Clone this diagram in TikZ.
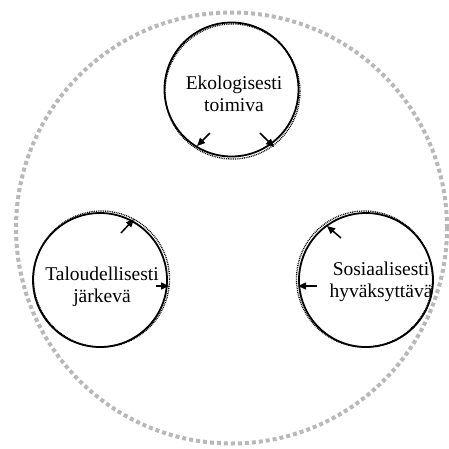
\documentclass[tikz,border=0pt]{standalone}
\usepackage{fontspec}
\setmainfont{Liberation Serif}
\usetikzlibrary{arrows.meta}
\begin{document}
\begin{tikzpicture}[x=1pt,y=-1pt,
  ring/.style={circle, draw, line width=1.8pt, minimum size=134pt, inner sep=0pt},
  ghost/.style={draw, line width=1.3pt, dash pattern=on 0.9pt off 0.9pt},
  lbl/.style={align=center, font=\fontsize{19.5}{21.5}\selectfont, inner sep=0pt},
  arr/.style={-{Triangle[length=8pt,width=7pt]}, line width=1.5pt}]
\useasboundingbox (0,0) rectangle (449,448);
% outer gray dashed ring
\node[circle, draw=black!28, line width=4pt, dash pattern=on 4pt off 3pt, minimum size=431pt, inner sep=0pt] (outer) at (231.5,228) {};
% top circle
\draw[ghost] (232.5,91.5) circle (67.5);
\node[ring] (eko) at (231.5,89.5) {};
\node[lbl] (ekot) at (234,94) {Ekologisesti\\toimiva};
% left circle
\draw[ghost] (101.5,279) circle (68);
\node[ring] (tal) at (100,280) {};
\node[lbl] (talt) at (102,287) {Taloudellisesti\\järkevä};
% right circle
\draw[ghost] (364.5,279) circle (68);
\node[ring] (sos) at (366,280) {};
\node[lbl] (sost) at (381,282) {Sosiaalisesti\\hyväksyttävä};
% arrows
\coordinate (a1s) at (210,133); \coordinate (a1e) at (197,146);
\coordinate (a2s) at (260,133); \coordinate (a2e) at (274,147);
\coordinate (a3s) at (121,233); \coordinate (a3e) at (134,219);
\coordinate (a4s) at (156,286); \coordinate (a4e) at (169,286);
\coordinate (a5s) at (341,238); \coordinate (a5e) at (327,226);
\coordinate (a6s) at (317,286); \coordinate (a6e) at (298,286);
\draw[arr] (a1s) -- (a1e);
\draw[arr] (a2s) -- (a2e);
\draw[arr] (a3s) -- (a3e);
\draw[arr] (a4s) -- (a4e);
\draw[arr] (a5s) -- (a5e);
\draw[arr] (a6s) -- (a6e);
\end{tikzpicture}
\end{document}
